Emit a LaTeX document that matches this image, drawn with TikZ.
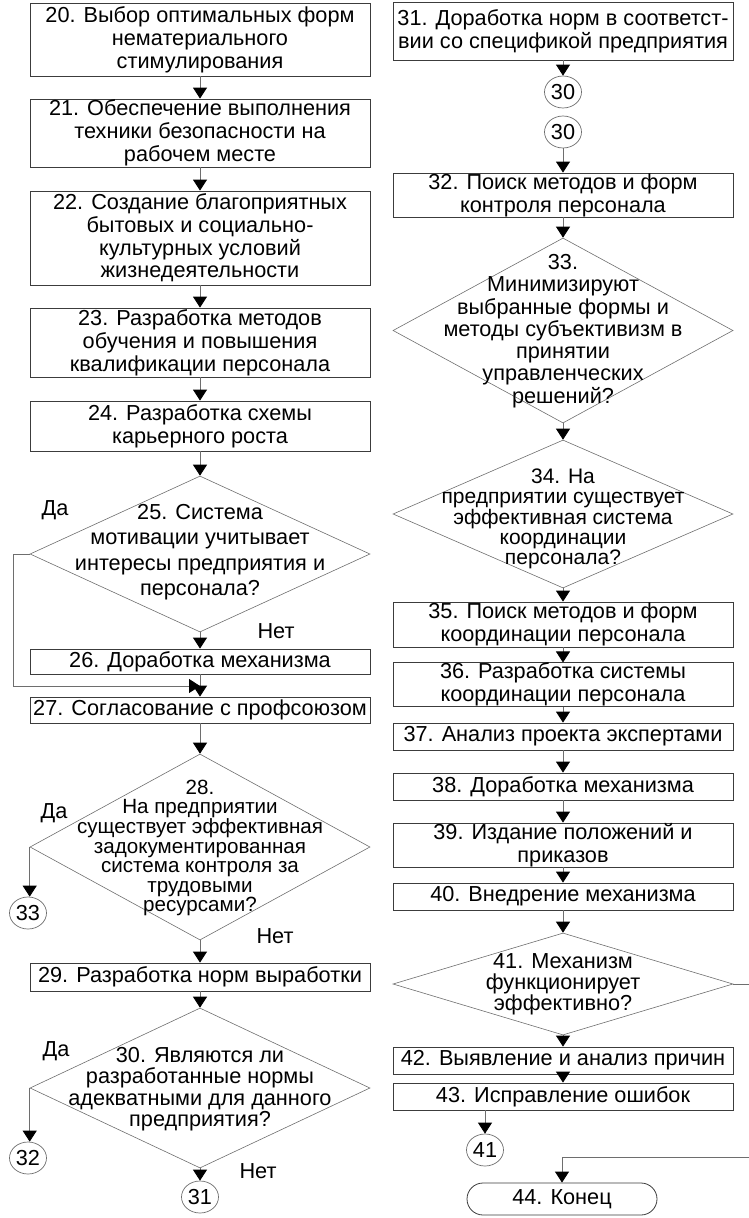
\documentclass[tikz,border=0pt]{standalone}
\usepackage{fontspec}
\setmainfont{Liberation Sans}
\usetikzlibrary{arrows.meta,shapes.geometric}
\definecolor{chartline}{HTML}{6E6E6E}
\definecolor{chartbox}{HTML}{3C3C3C}
\newcommand\chartfont{\fontsize{21.7}{22.8}\selectfont}

\begin{document}
\begin{tikzpicture}[x=1pt,y=-1pt,
    stepbox/.style={draw=chartbox,line width=0.8pt,minimum width=340pt,inner sep=0pt,
      align=center,font=\chartfont},
    ask/.style={diamond,draw=chartline,line width=0.6pt,minimum width=340pt,inner sep=0pt},
    asktext/.style={align=center,font=\chartfont,inner sep=0pt},
    link/.style={ellipse,draw=chartline,line width=0.7pt,minimum width=37pt,minimum height=32pt,
      inner sep=0pt,font=\chartfont},
    flow/.style={chartline,line width=0.8pt,-{Triangle[color=black,length=11pt,width=14pt]}},
    answer/.style={font=\chartfont,inner sep=0pt}]
  \useasboundingbox (0,0) rectangle (748,1218);

  % left column
  \node[stepbox,minimum height=73pt] (b20) at (200,39.5)
    {20. Выбор оптимальных форм\\нематериального\\стимулирования};
  \node[stepbox,minimum height=68pt] (b21) at (200,133)
    {21. Обеспечение выполнения\\техники безопасности на\\рабочем месте};
  \node[stepbox,minimum height=94pt] (b22) at (200,238)
    {22. Создание благоприятных\\бытовых и социально-\\культурных условий\\жизнедеятельности};
  \node[stepbox,minimum height=69pt] (b23) at (200,342.5)
    {23. Разработка методов\\обучения и повышения\\квалификации персонала};
  \node[stepbox,minimum height=50pt] (b24) at (200,426)
    {24. Разработка схемы\\карьерного роста};
  \node[ask,minimum height=156pt] (d25) at (200,554) {};
  \node[asktext,font=\fontsize{21.7}{25.5}\selectfont] (d25t) at (200,552)
    {25. Система\\мотивации учитывает\\интересы предприятия и\\персонала?};
  \node[stepbox,minimum height=25pt] (b26) at (200,661.5) {26. Доработка механизма};
  \node[stepbox,minimum height=26pt] (b27) at (200,710) {27. Согласование с профсоюзом};
  \coordinate (j27) at (200,686);
  \node[ask,minimum height=186pt] (d28) at (200,847) {};
  \node[asktext,font=\fontsize{20.6}{19.6}\selectfont] (d28t) at (200,848)
    {28.\\На предприятии\\существует эффективная\\задокументированная\\система контроля за\\трудовыми\\ресурсами?};
  \node[link] (c33) at (28,913) {33};
  \node[stepbox,minimum height=28pt] (b29) at (200,977) {29. Разработка норм выработки};
  \node[ask,minimum height=160pt] (d30) at (200,1088) {};
  \node[asktext,font=\fontsize{21.7}{21.5}\selectfont] (d30t) at (200,1089)
    {30. Являются ли\\разработанные нормы\\адекватными для данного\\предприятия?};
  \node[link] (c32) at (28,1158) {32};
  \node[link] (c31) at (200,1197) {31};

  \node[answer] (yes25) at (55,510) {Да};
  \node[answer] (no25) at (276,631) {Нет};
  \node[answer] (yes28) at (54,813) {Да};
  \node[answer] (no28) at (275,936) {Нет};
  \node[answer] (yes30) at (56,1051) {Да};
  \node[answer] (no30) at (258,1171) {Нет};

  % right column
  \node[stepbox,minimum height=58pt] (b31) at (563,31)
    {31. Доработка норм в соответст-\\вии со спецификой предприятия};
  \node[link] (c30a) at (563,92) {30};
  \node[link] (c30b) at (563,132) {30};
  \node[stepbox,minimum height=44pt] (b32) at (563,195)
    {32. Поиск методов и форм\\контроля персонала};
  \node[ask,minimum height=185pt] (d33) at (563,330.5) {};
  \node[asktext,font=\fontsize{21.7}{22.3}\selectfont] (d33t) at (563,331)
    {33.\\Минимизируют\\выбранные формы и\\методы субъективизм в\\принятии\\управленческих\\решений?};
  \node[ask,minimum height=148pt] (d34) at (563,514) {};
  \node[asktext,font=\fontsize{21}{20.2}\selectfont] (d34t) at (563,519)
    {34. На\\предприятии существует\\эффективная система\\координации\\персонала?};
  \node[stepbox,minimum height=45pt] (b35) at (563,624.5)
    {35. Поиск методов и форм\\координации персонала};
  \node[stepbox,minimum height=43pt] (b36) at (563,684.5)
    {36. Разработка системы\\координации персонала};
  \node[stepbox,minimum height=27pt] (b37) at (563,736.5) {37. Анализ проекта экспертами};
  \node[stepbox,minimum height=27pt] (b38) at (563,786.5) {38. Доработка механизма};
  \node[stepbox,minimum height=44pt] (b39) at (563,845)
    {39. Издание положений и\\приказов};
  \node[stepbox,minimum height=27pt] (b40) at (563,896.5) {40. Внедрение механизма};
  \node[ask,minimum height=102pt] (d41) at (563,984) {};
  \node[asktext,font=\fontsize{21.7}{21}\selectfont] (d41t) at (563,984)
    {41. Механизм\\функционирует\\эффективно?};
  \node[stepbox,minimum height=27pt] (b42) at (563,1060.5) {42. Выявление и анализ причин};
  \node[stepbox,minimum height=27pt] (b43) at (563,1096.5) {43. Исправление ошибок};
  \node[link] (c41) at (485,1150) {41};
  \node[stepbox,minimum width=190pt,minimum height=32pt,rounded corners=16pt] (e44) at (562,1199)
    {44. Конец};
  \coordinate (offpage) at (762,1157);

  % connectors, left
  \draw[flow] (b20) -- (b21);
  \draw[flow] (b21) -- (b22);
  \draw[flow] (b22) -- (b23);
  \draw[flow] (b23) -- (b24);
  \draw[flow] (b24) -- (d25);
  \draw[flow] (d25) -- (b26);
  \draw[flow] (b26) -- (b27);
  \draw[flow] (d25.west) -- ++(-16,0) |- (j27);
  \draw[flow] (b27) -- (d28);
  \draw[flow] (d28.west) -- (d28.west |- c33.north);
  \draw[flow] (d28) -- (b29);
  \draw[flow] (b29) -- (d30);
  \draw[flow] (d30.west) -- (d30.west |- c32.north);
  \draw[flow] (d30) -- (c31);

  % connectors, right
  \draw[flow] (b31) -- (c30a);
  \draw[flow] (c30b) -- (b32);
  \draw[flow] (b32) -- (d33);
  \draw[flow] (d33) -- (d34);
  \draw[flow] (d34) -- (b35);
  \draw[flow] (b35) -- (b36);
  \draw[flow] (b36) -- (b37);
  \draw[flow] (b37) -- (b38);
  \draw[flow] (b38) -- (b39);
  \draw[flow] (b39) -- (b40);
  \draw[flow] (b40) -- (d41);
  \draw[flow] (d41) -- (b42);
  \draw[flow] (b42) -- (b43);
  \draw[flow] (b43.south -| c41) -- (c41);
  \draw[flow] (d41.east) -| (offpage) -| (e44);
\end{tikzpicture}
\end{document}
